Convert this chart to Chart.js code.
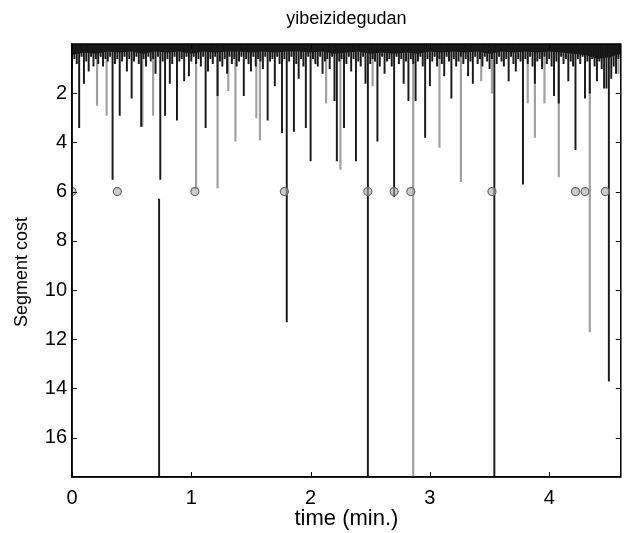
<!DOCTYPE html>
<html>
<head>
<meta charset="utf-8">
<script src="https://cdn.jsdelivr.net/npm/chart.js@4.4.0/dist/chart.umd.min.js"></script>
<style>
  html, body { margin: 0; padding: 0; background: #fff; }
  #wrap { width: 626px; height: 533px; }
</style>
</head>
<body>
<div id="wrap"><canvas id="myChart" width="626" height="533"></canvas></div>
<script>
// frame step of the dark cost track (min.)
var step = 0.02;

// dark segment cost, one value per frame from 0 to 4.6 min
var darkCost = [
  1.0, 0.6, 0.8, 3.4, 0.5, 1.6, 0.7, 1.1, 0.5, 0.9,
  0.6, 0.8, 0.5, 0.9, 0.6, 0.7, 0.5, 5.5, 0.8, 0.6,
  2.9, 0.7, 0.5, 1.1, 0.6, 2.2, 0.7, 0.5, 0.8, 3.35,
  0.6, 0.9, 0.5, 0.7, 0.6, 1.2, 0.5, 5.5, 0.7, 2.9,
  0.6, 1.6, 0.8, 0.5, 3.1, 0.7, 0.6, 1.5, 0.5, 1.3,
  0.7, 0.5, 0.8, 0.6, 0.9, 0.5, 3.4, 1.1, 0.6, 0.8,
  0.5, 2.1, 0.7, 0.9, 0.6, 1.2, 0.5, 0.8, 0.6, 0.9,
  0.7, 0.5, 2.1, 0.6, 0.8, 1.1, 0.5, 0.9, 0.6, 0.7,
  1.0, 0.5, 3.1, 0.7, 0.6, 1.7, 0.5, 0.8, 3.6, 0.6,
  11.3, 0.7, 0.5, 3.55, 0.8, 1.4, 0.6, 0.9, 3.4, 0.5,
  4.75, 0.6, 0.8, 0.9, 0.5, 1.2, 0.7, 0.6, 1.0, 0.5,
  2.3, 4.75, 0.7, 0.6, 3.4, 0.8, 0.5, 1.1, 0.6, 4.75,
  0.7, 0.9, 0.5, 1.6, 17.6, 0.8, 0.6, 0.7, 3.95, 0.9,
  0.5, 1.2, 0.7, 0.6, 0.9, 6.2, 0.5, 0.8, 0.6, 1.6,
  0.7, 2.3, 0.6, 0.8, 2.3, 0.7, 0.5, 0.9, 3.8, 0.6,
  1.7, 0.7, 0.5, 0.9, 0.6, 0.8, 1.3, 0.5, 0.7, 2.2,
  0.6, 0.9, 0.7, 0.5, 0.8, 0.6, 1.3, 0.7, 1.6, 0.5,
  0.8, 0.6, 0.9, 0.5, 0.7, 1.0, 0.6, 17.6, 0.8, 0.5,
  0.7, 0.9, 0.6, 1.5, 0.5, 0.8, 1.1, 0.6, 0.7, 5.7,
  0.6, 0.8, 0.5, 0.9, 1.6, 0.7, 0.6, 1.0, 0.5, 0.8,
  0.6, 0.9, 2.1, 0.7, 2.4, 0.5, 0.8, 0.6, 1.5, 0.7,
  0.9, 4.3, 0.6, 0.8, 0.5, 2.2, 0.7, 2.0, 0.6, 0.9,
  1.5, 0.7, 1.0, 1.8, 1.8, 13.7, 1.4, 0.9, 1.2, 0.6,
  0.5
];

// light (gray) segment cost spikes
var grayTimes = [0.21, 0.29, 0.59, 0.68, 1.04, 1.22, 1.31, 1.37, 1.545, 1.575, 2.13, 2.25,
                 2.52, 2.86, 3.08, 3.26, 3.43, 3.52, 3.82, 3.88, 3.96, 4.08, 4.34, 4.58];
var grayCost  = [2.5, 2.9, 3.35, 2.9, 5.9, 5.85, 1.9, 3.95, 3.0, 3.9, 2.4, 5.1,
                 1.7, 17.6, 4.2, 5.6, 1.5, 2.0, 2.4, 3.8, 2.4, 5.4, 11.7, 1.2];

// dense noise floor along the top, every 0.1 min
var floorStep = 0.1;
var floorCost = [
  0.45, 0.35, 0.4, 0.3, 0.35, 0.3, 0.4, 0.3, 0.35, 0.3,
  0.4, 0.3, 0.35, 0.3, 0.3, 0.35, 0.3, 0.35, 0.3, 0.3,
  0.35, 0.3, 0.4, 0.35, 0.3, 0.4, 0.35, 0.4, 0.35, 0.4,
  0.3, 0.35, 0.3, 0.35, 0.3, 0.4, 0.3, 0.35, 0.3, 0.35,
  0.3, 0.35, 0.4, 0.45, 0.6, 0.55, 0.4
];

// lower segment hanging below the boundary row
var lowerTime = 0.73;
var lowerRange = [6.3, 17.6];

// detected boundaries, drawn at cost 6
var boundaryTimes = [0.0, 0.38, 1.03, 1.78, 2.48, 2.70, 2.84, 3.52, 4.22, 4.30, 4.47];
var boundaryLevel = 6;

var xTicks = [0, 1, 2, 3, 4];
var yTicks = [2, 4, 6, 8, 10, 12, 14, 16];
var titleText = 'yibeizidegudan';
var yTitleText = 'Segment cost';

var darkData = darkCost.map(function (v, i) { return { x: +(i * step).toFixed(2), y: v }; });
darkData.push({ x: lowerTime, y: lowerRange });
var grayData = grayTimes.map(function (t, i) { return { x: t, y: grayCost[i] }; });
var floorData = floorCost.map(function (v, i) { return { x: +(i * floorStep).toFixed(1), y: v }; });
var boundData = boundaryTimes.map(function (t) { return { x: t, y: boundaryLevel }; });

var family = '"Liberation Sans", Arial, Helvetica, sans-serif';

// inward ticks on all four sides, the box, the title and the y label
var boxTicks = {
  id: 'boxTicks',
  afterDatasetsDraw: function (chart) {
    var c = chart.ctx, a = chart.chartArea;
    var sx = chart.scales.x, sy = chart.scales.y;
    c.save();
    c.strokeStyle = '#000';
    c.lineWidth = 1;
    c.beginPath();
    xTicks.forEach(function (t) {
      var px = Math.round(sx.getPixelForValue(t)) + 0.5;
      c.moveTo(px, a.bottom); c.lineTo(px, a.bottom - 5);
      c.moveTo(px, a.top); c.lineTo(px, a.top + 5);
    });
    yTicks.forEach(function (t) {
      var py = Math.round(sy.getPixelForValue(t)) + 0.5;
      c.moveTo(a.left, py); c.lineTo(a.left + 5, py);
      c.moveTo(a.right, py); c.lineTo(a.right - 5, py);
    });
    c.stroke();
    c.lineWidth = 1.5;
    c.strokeRect(a.left, a.top, a.right - a.left, a.bottom - a.top);

    c.fillStyle = '#000';
    c.textAlign = 'center';
    c.textBaseline = 'middle';
    c.font = '18px ' + family;
    c.fillText(titleText, (a.left + a.right) / 2, 19);

    c.translate(22, 272);
    c.rotate(-Math.PI / 2);
    c.font = '18px ' + family;
    c.fillText(yTitleText, 0, 0);
    c.restore();
  }
};

var ctx = document.getElementById('myChart').getContext('2d');
var chart = new Chart(ctx, {
  type: 'bar',
  data: {
    datasets: [{
      type: 'line',
      label: 'floor',
      data: floorData,
      borderWidth: 0,
      pointRadius: 0,
      fill: 'origin',
      backgroundColor: '#111',
      order: 3
    }, {
      label: 'gray cost',
      data: grayData,
      backgroundColor: '#a0a0a0',
      barThickness: 1.5,
      grouped: false,
      order: 4
    }, {
      label: 'dark cost',
      data: darkData,
      backgroundColor: '#1a1a1a',
      barThickness: 1.3,
      grouped: false,
      order: 2
    }, {
      type: 'scatter',
      label: 'boundaries',
      data: boundData,
      pointRadius: 4,
      pointBorderWidth: 1.2,
      borderColor: '#6a6a6a',
      backgroundColor: 'rgba(170,170,170,0.6)',
      order: 1
    }]
  },
  options: {
    responsive: false,
    animation: false,
    layout: { padding: { left: 0, right: 5, top: 44, bottom: 0 } },
    plugins: {
      legend: { display: false },
      tooltip: { enabled: false },
      title: { display: false }
    },
    scales: {
      x: {
        type: 'linear',
        min: 0,
        max: 4.6,
        offset: false,
        grid: { display: false, drawTicks: false },
        border: { color: '#000', width: 1.5 },
        afterBuildTicks: function (s) { s.ticks = xTicks.map(function (v) { return { value: v }; }); },
        ticks: { color: '#000', font: { family: family, size: 20 }, padding: 9, maxRotation: 0 },
        title: { display: true, text: 'time (min.)', color: '#000', font: { family: family, size: 22 }, padding: { top: 0, bottom: 1 } },
        afterFit: function (s) { s.height = 56; }
      },
      y: {
        reverse: true,
        min: 0,
        max: 17.6,
        grid: { display: false, drawTicks: false },
        border: { color: '#000', width: 1.5 },
        afterBuildTicks: function (s) { s.ticks = yTicks.map(function (v) { return { value: v }; }); },
        ticks: { color: '#000', font: { family: family, size: 20 }, padding: 5 },
        title: { display: false },
        afterFit: function (s) { s.width = 72; }
      }
    }
  },
  plugins: [boxTicks]
});
</script>
</body>
</html>
